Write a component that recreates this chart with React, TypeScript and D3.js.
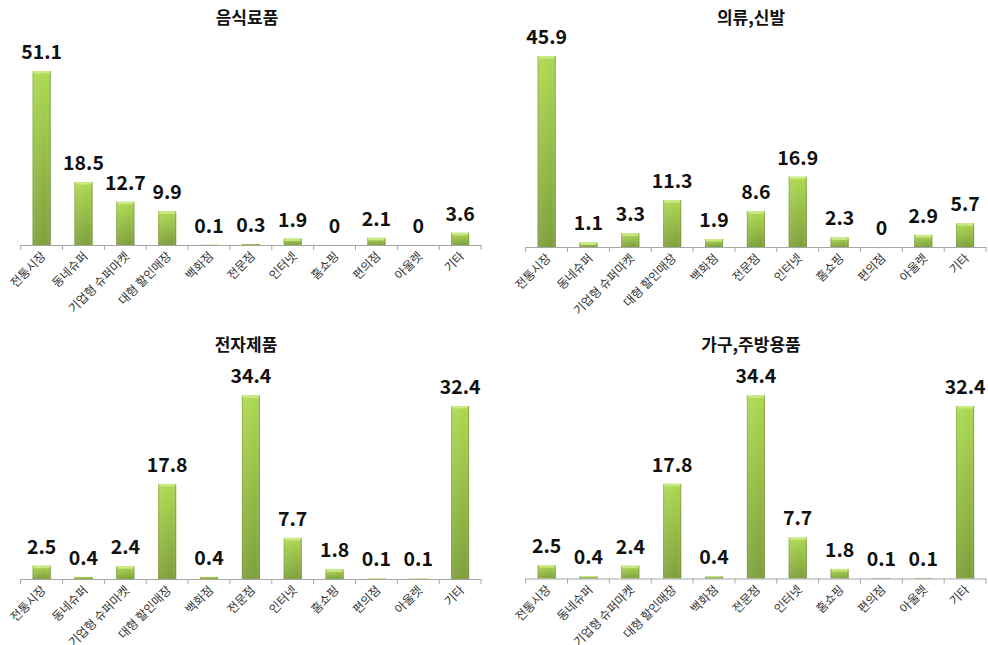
import { useEffect, useRef } from 'react';
import * as d3 from 'd3';

const categories = ['전통시장', '동네슈퍼', '기업형 슈퍼마켓', '대형 할인매장', '백화점', '전문점', '인터넷', '홈쇼핑', '편의점', '아울렛', '기타'];

const foodValues = [51.1, 18.5, 12.7, 9.9, 0.1, 0.3, 1.9, 0, 2.1, 0, 3.6];
const clothingValues = [45.9, 1.1, 3.3, 11.3, 1.9, 8.6, 16.9, 2.3, 0, 2.9, 5.7];
const electronicsValues = [2.5, 0.4, 2.4, 17.8, 0.4, 34.4, 7.7, 1.8, 0.1, 0.1, 32.4];
const furnitureValues = [2.5, 0.4, 2.4, 17.8, 0.4, 34.4, 7.7, 1.8, 0.1, 0.1, 32.4];

const titles = ['음식료품', '의류,신발', '전자제품', '가구,주방용품'];
const axisMax = [60, 50, 40, 40];

interface Panel {
  title: string;
  values: number[];
  yMax: number;
  left: number;
  axisY: number;
  plotHeight: number;
  titleX: number;
  titleY: number;
}

interface Bar {
  cat: string;
  value: number;
}

const W = 988;
const H = 645;
const STEP = 41.85;

export default function App() {
  const svgRef = useRef<SVGSVGElement | null>(null);

  useEffect(() => {
    const svgEl = svgRef.current;
    if (!svgEl) return;
    const svg = d3.select(svgEl);
    svg.selectAll('*').remove();

    const defs = svg.append('defs');
    const vg = defs.append('linearGradient').attr('id', 'barV').attr('x1', 0).attr('y1', 0).attr('x2', 0).attr('y2', 1);
    vg.append('stop').attr('offset', '0%').attr('stop-color', '#acd94f');
    vg.append('stop').attr('offset', '100%').attr('stop-color', '#7c9f38');
    const hg = defs.append('linearGradient').attr('id', 'barH').attr('x1', 0).attr('y1', 0).attr('x2', 1).attr('y2', 0);
    hg.append('stop').attr('offset', '0%').attr('stop-color', '#5d7a22').attr('stop-opacity', 0.45);
    hg.append('stop').attr('offset', '14%').attr('stop-color', '#ffffff').attr('stop-opacity', 0.08);
    hg.append('stop').attr('offset', '80%').attr('stop-color', '#ffffff').attr('stop-opacity', 0);
    hg.append('stop').attr('offset', '100%').attr('stop-color', '#4d6a1a').attr('stop-opacity', 0.5);

    const panels: Panel[] = [
      { title: titles[0], values: foodValues, yMax: axisMax[0], left: 20.7, axisY: 245, plotHeight: 204.3, titleX: 247, titleY: 24 },
      { title: titles[1], values: clothingValues, yMax: axisMax[1], left: 525.7, axisY: 247, plotHeight: 208, titleX: 751, titleY: 24 },
      { title: titles[2], values: electronicsValues, yMax: axisMax[2], left: 20.7, axisY: 579, plotHeight: 213.6, titleX: 246, titleY: 351 },
      { title: titles[3], values: furnitureValues, yMax: axisMax[3], left: 525.7, axisY: 578.5, plotHeight: 213, titleX: 751, titleY: 351 }
    ];

    panels.forEach((p) => {
      const g = svg.append('g');
      const data: Bar[] = categories.map((cat, i) => ({ cat, value: p.values[i] }));
      const x = d3
        .scaleBand<string>()
        .domain(categories)
        .range([p.left, p.left + STEP * categories.length])
        .paddingInner(0.57)
        .paddingOuter(0.285);
      const y = d3.scaleLinear().domain([0, p.yMax]).range([p.axisY, p.axisY - p.plotHeight]);

      g.append('text')
        .attr('x', p.titleX)
        .attr('y', p.titleY)
        .attr('text-anchor', 'middle')
        .attr('font-size', 17)
        .attr('font-weight', 'bold')
        .attr('fill', '#111')
        .text(p.title);

      const bars = g.selectAll('g.bar').data(data).join('g').attr('class', 'bar');
      bars
        .append('rect')
        .attr('x', (d) => x(d.cat) ?? 0)
        .attr('y', (d) => y(d.value))
        .attr('width', x.bandwidth())
        .attr('height', (d) => p.axisY - y(d.value))
        .attr('fill', 'url(#barV)');
      bars
        .append('rect')
        .attr('x', (d) => x(d.cat) ?? 0)
        .attr('y', (d) => y(d.value))
        .attr('width', x.bandwidth())
        .attr('height', (d) => p.axisY - y(d.value))
        .attr('fill', 'url(#barH)');
      bars
        .filter((d) => p.axisY - y(d.value) > 3)
        .append('rect')
        .attr('x', (d) => (x(d.cat) ?? 0) + 1)
        .attr('y', (d) => y(d.value))
        .attr('width', x.bandwidth() - 2)
        .attr('height', 2.5)
        .attr('fill', '#d2ee8e')
        .attr('opacity', 0.8);

      g.selectAll('text.val')
        .data(data)
        .join('text')
        .attr('class', 'val')
        .attr('x', (d) => (x(d.cat) ?? 0) + x.bandwidth() / 2)
        .attr('y', (d) => y(d.value) - 12)
        .attr('text-anchor', 'middle')
        .attr('font-size', 19.5)
        .attr('font-weight', 'bold')
        .attr('fill', '#111')
        .text((d) => String(d.value));

      const right = p.left + STEP * categories.length;
      g.append('line')
        .attr('x1', p.left)
        .attr('x2', right)
        .attr('y1', p.axisY + 0.5)
        .attr('y2', p.axisY + 0.5)
        .attr('stroke', '#a6a6a6')
        .attr('stroke-width', 1);
      g.selectAll('line.tick')
        .data(d3.range(categories.length + 1))
        .join('line')
        .attr('class', 'tick')
        .attr('x1', (i) => p.left + i * STEP)
        .attr('x2', (i) => p.left + i * STEP)
        .attr('y1', p.axisY)
        .attr('y2', p.axisY + 5)
        .attr('stroke', '#a6a6a6');

      g.selectAll('text.cat')
        .data(categories)
        .join('text')
        .attr('class', 'cat')
        .attr('transform', (d) => {
          const cx = (x(d) ?? 0) + x.bandwidth() / 2 + 5;
          return `translate(${cx},${p.axisY + 12}) rotate(-45)`;
        })
        .attr('text-anchor', 'end')
        .attr('font-size', 12)
        .attr('fill', '#333')
        .text((d) => d);
    });
  }, []);

  return (
    <div style={{ position: 'absolute', left: 0, top: 0, width: W, height: H, background: '#fff' }}>
      <svg
        ref={svgRef}
        width={W}
        height={H}
        style={{ display: 'block', fontFamily: '"Noto Sans CJK KR", "Noto Sans", sans-serif' }}
      />
    </div>
  );
}
